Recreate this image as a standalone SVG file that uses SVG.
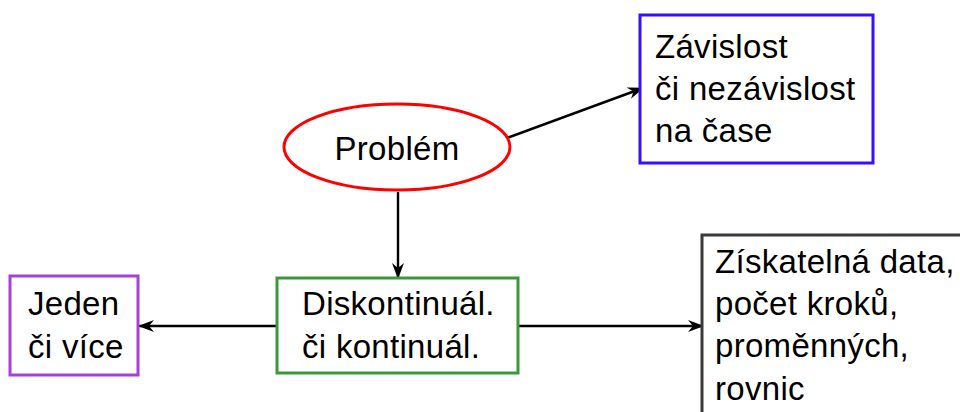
<svg xmlns="http://www.w3.org/2000/svg" width="960" height="412" viewBox="0 0 960 412">
<style>
text{font-family:"Liberation Sans",Arial,sans-serif;font-size:33px;letter-spacing:0.3px;fill:#000}
.n{fill:#fff;stroke-width:3}
.c{stroke:#000;stroke-width:2.4;fill:none;marker-end:url(#ah)}
</style>
<defs>
<marker id="ah" viewBox="0 0 16 12" refX="15" refY="6" markerWidth="16" markerHeight="12" markerUnits="userSpaceOnUse" orient="auto">
<path d="M0,0 L16,6 L0,12 L5,6 Z" fill="#000"/>
</marker>
</defs>
<rect width="960" height="412" fill="#fff"/>
<g id="connectors">
<path class="c" d="M507,138 L643,88"/>
<path class="c" d="M398,192 L398,278"/>
<path class="c" d="M277,326 L139,326"/>
<path class="c" d="M518,326 L703,326"/>
</g>
<g id="problem">
<ellipse class="n" cx="397" cy="147" rx="113" ry="43" stroke="#ff0000"/>
<text x="397" y="160" text-anchor="middle">Problém</text>
</g>
<g id="zavislost">
<rect class="n" x="640" y="15" width="233" height="148" stroke="#3311ff"/>
<text x="655" y="58">Závislost</text>
<text x="655" y="100">či nezávislost</text>
<text x="655" y="142">na čase</text>
</g>
<g id="diskontinual">
<rect class="n" x="277" y="278" width="241" height="95" stroke="#3a983a"/>
<text x="302" y="315">Diskontinuál.</text>
<text x="302" y="358">či kontinuál.</text>
</g>
<g id="jeden">
<rect class="n" x="10" y="276" width="128" height="99" stroke="#a640d8"/>
<text x="28" y="315">Jeden</text>
<text x="28" y="358">či více</text>
</g>
<g id="data">
<rect class="n" x="702" y="235" width="300" height="220" stroke="#3a3a3a"/>
<text x="715" y="273">Získatelná data,</text>
<text x="715" y="315">počet kroků,</text>
<text x="715" y="357">proměnných,</text>
<text x="715" y="400">rovnic</text>
</g>
</svg>
